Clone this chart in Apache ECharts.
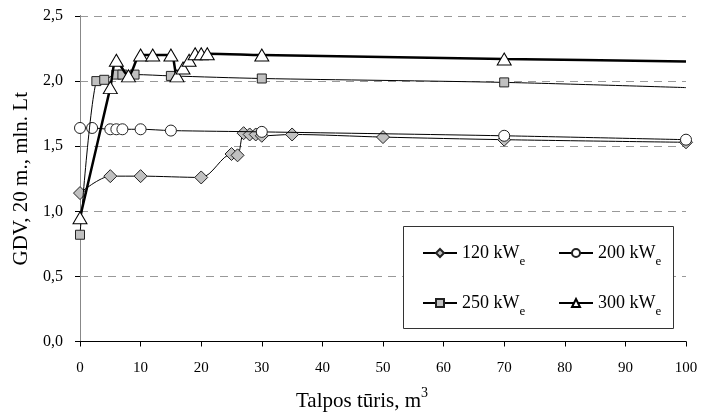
<!DOCTYPE html>
<html>
<head>
<meta charset="utf-8">
<script src="https://cdn.jsdelivr.net/npm/echarts@6/dist/echarts.min.js"></script>
<style>
html,body{margin:0;padding:0;background:#fff;}
#chart{width:701px;height:417px;}
</style>
</head>
<body>
<div id="chart"></div>
<script>
// ---- data ----
var seriesNames = ['120 kWe', '200 kWe', '250 kWe', '300 kWe'];
var x120 = [0, 5, 10, 20, 25, 26, 27, 28, 29, 30, 35, 50, 70, 100];
var y120 = [1.14, 1.27, 1.27, 1.26, 1.44, 1.43, 1.60, 1.59, 1.59, 1.58, 1.59, 1.57, 1.55, 1.53];
var x200 = [0, 2, 5, 6, 7, 10, 15, 30, 70, 100];
var y200 = [1.64, 1.64, 1.63, 1.63, 1.63, 1.63, 1.62, 1.61, 1.58, 1.55];
var x250 = [0, 2.7, 4, 6, 7, 9, 15, 30, 70, 100];
var y250 = [0.82, 2.00, 2.01, 2.05, 2.05, 2.05, 2.04, 2.02, 1.99, 1.95];
var x300 = [0, 5, 6, 8, 10, 12, 15, 16, 17, 18, 19, 20, 21, 30, 70, 100];
var y300 = [0.95, 1.95, 2.16, 2.04, 2.20, 2.20, 2.20, 2.04, 2.10, 2.16, 2.21, 2.21, 2.21, 2.20, 2.17, 2.15];
var xTicks = [0, 10, 20, 30, 40, 50, 60, 70, 80, 90, 100];
var yTicks = [0, 0.5, 1.0, 1.5, 2.0, 2.5];
var xTitle = 'Talpos tūris, m';
var yTitle = 'GDV, 20 m., mln. Lt';

var FONT = "'Liberation Serif', 'Times New Roman', serif";

function pairs(xs, ys, hideLast) {
  return xs.map(function (x, i) {
    var item = { value: [x, ys[i]] };
    if (hideLast && i === xs.length - 1) item.symbol = 'none';
    return item;
  });
}

var chart = echarts.init(document.getElementById('chart'), null, { renderer: 'canvas' });

var legendRich = {
  a: { fontFamily: FONT, fontSize: 18, color: '#000' },
  s: { fontFamily: FONT, fontSize: 13, color: '#000', padding: [18, 0, 0, 0] }
};
function legendFmt(name) {
  var num = name.split(' ')[0];
  return '{a|' + num + ' kW}{s|e}';
}
function mkLegend(name, left, top) {
  return {
    data: [name], left: left, top: top, orient: 'horizontal',
    itemWidth: 34, itemHeight: 10, itemGap: 6, padding: 0,
    formatter: legendFmt,
    selectedMode: false,
    textStyle: { fontFamily: FONT, fontSize: 18, color: '#000', rich: legendRich }
  };
}

var baseLine = { color: '#000', width: 1 };

var option = {
  animation: false,
  backgroundColor: '#fff',
  grid: { left: 80, right: 15, top: 16, bottom: 73, containLabel: false },
  xAxis: {
    type: 'value', min: 0, max: 100, interval: 10,
    axisLine: { show: true, onZero: false, lineStyle: { color: '#000', width: 1 } },
    axisTick: { show: true, length: 5, lineStyle: { color: '#000' } },
    axisLabel: { fontFamily: FONT, fontSize: 15, color: '#000', margin: 19,
      formatter: function (v) { return xTicks.indexOf(v) >= 0 ? String(v) : ''; } },
    splitLine: { show: false },
    name: '{a|' + xTitle + '}{b|3}',
    nameLocation: 'middle', nameGap: 45,
    nameTextStyle: {
      fontFamily: FONT, fontSize: 21, color: '#000', padding: [0, 42, 0, 0],
      rich: {
        a: { fontFamily: FONT, fontSize: 21, color: '#000' },
        b: { fontFamily: FONT, fontSize: 14, color: '#000', padding: [0, 0, 16, 0] }
      }
    }
  },
  yAxis: [{
    type: 'value', min: 0, max: 2.5, interval: 0.5,
    axisLine: { show: true, onZero: false, lineStyle: { color: '#000', width: 1 } },
    axisTick: { show: true, length: 5, lineStyle: { color: '#000' } },
    axisLabel: { fontFamily: FONT, fontSize: 16, color: '#000', margin: 17,
      formatter: function (v) {
        for (var i = 0; i < yTicks.length; i++) {
          if (Math.abs(yTicks[i] - v) < 1e-9) return yTicks[i].toFixed(1).replace('.', ',');
        }
        return '';
      } },
    splitLine: { show: true, lineStyle: { color: '#999', type: [8, 6], width: 1 } },
    name: yTitle, nameLocation: 'middle', nameGap: 48,
    nameTextStyle: { fontFamily: FONT, fontSize: 21, color: '#000' }
  }, {
    type: 'value', min: 0, max: 2.5, interval: 0.5, position: 'right',
    axisLine: { show: true, lineStyle: { color: '#888', width: 1 } },
    axisTick: { show: false }, axisLabel: { show: false }, splitLine: { show: false }
  }],
  legend: [
    mkLegend(seriesNames[0], 422, 244),
    mkLegend(seriesNames[1], 558, 244),
    mkLegend(seriesNames[2], 422, 294),
    mkLegend(seriesNames[3], 558, 294)
  ],
  graphic: [{
    type: 'rect', z: 3, left: 403, top: 226,
    shape: { x: 0, y: 0, width: 270, height: 102 },
    style: { fill: '#fff', stroke: '#333', lineWidth: 1 }
  }],
  series: [
    {
      name: seriesNames[0], type: 'line', smooth: 0.3,
      data: pairs(x120, y120, false),
      symbol: 'diamond', symbolSize: [13, 13],
      lineStyle: baseLine,
      itemStyle: { color: '#c0c0c0', borderColor: '#222', borderWidth: 1 },
      z: 2
    },
    {
      name: seriesNames[1], type: 'line', smooth: 0.3,
      data: pairs(x200, y200, false),
      symbol: 'circle', symbolSize: 11,
      lineStyle: baseLine,
      itemStyle: { color: '#fff', borderColor: '#222', borderWidth: 1 },
      z: 3
    },
    {
      name: seriesNames[2], type: 'line', smooth: 0.3,
      data: pairs(x250, y250, true),
      symbol: 'rect', symbolSize: 9,
      lineStyle: baseLine,
      itemStyle: { color: '#c0c0c0', borderColor: '#222', borderWidth: 1 },
      z: 4
    },
    {
      name: seriesNames[3], type: 'line', smooth: 0.3,
      data: pairs(x300, y300, true),
      symbol: 'triangle', symbolSize: [14, 12],
      lineStyle: { color: '#000', width: 2.5 },
      itemStyle: { color: '#fff', borderColor: '#000', borderWidth: 1 },
      z: 5
    }
  ]
};
chart.setOption(option);
</script>
</body>
</html>
